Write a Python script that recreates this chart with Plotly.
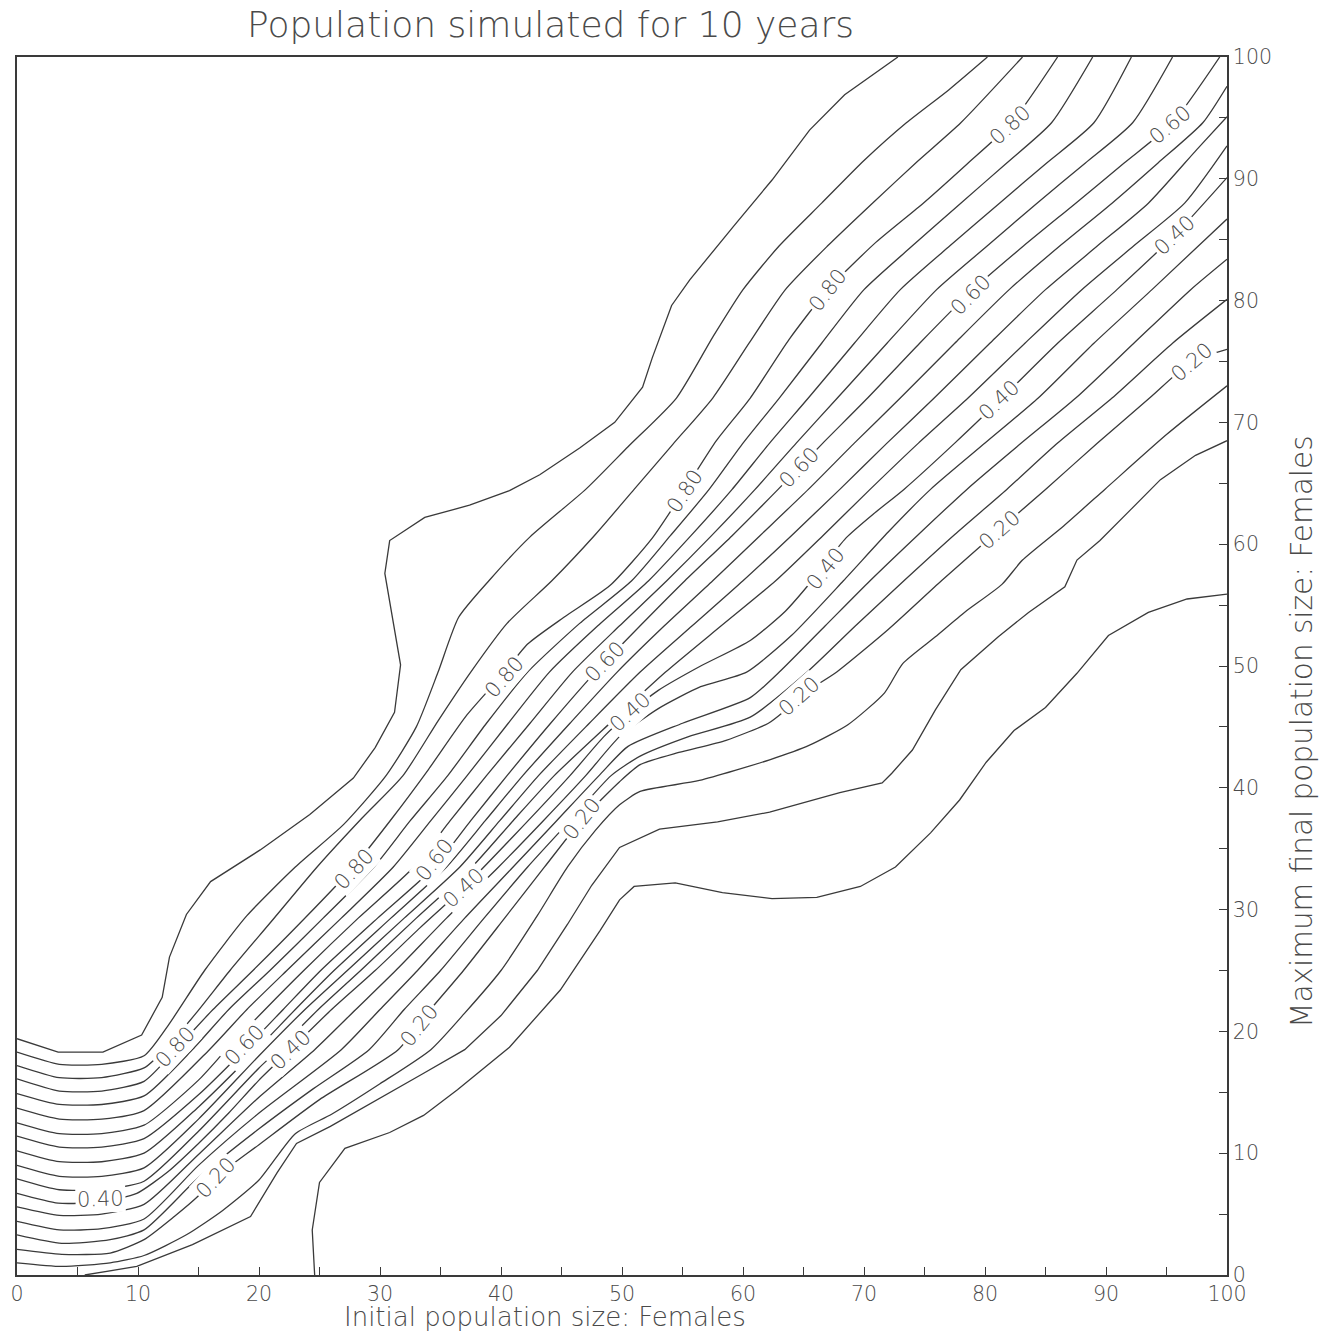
import math
import plotly.graph_objects as go

# ---------------- data ----------------
levels = [0.05, 0.10, 0.15, 0.20, 0.25, 0.30, 0.35, 0.40, 0.45, 0.50,
          0.55, 0.60, 0.65, 0.70, 0.75, 0.80, 0.85, 0.90, 0.95]

c05 = [(24.6, 0), (24.4, 3.7), (25.0, 7.6), (27.1, 10.4), (30.8, 11.7), (33.6, 13.1), (36.4, 15.2),
       (40.7, 18.7), (44.9, 23.4), (48.2, 28.3), (49.8, 30.8), (51.0, 31.9), (54.4, 32.2), (58.3, 31.4),
       (62.4, 30.9), (66.1, 31.0), (69.7, 31.9), (72.6, 33.5), (75.5, 36.3), (77.9, 39.0), (80.1, 42.1),
       (82.4, 44.7), (85.0, 46.6), (87.6, 49.4), (90.2, 52.5), (93.5, 54.4), (96.7, 55.5), (100, 55.9)]
c10 = [(5.6, 0), (9.9, 0.7), (14.5, 2.5), (19.3, 4.8), (21.5, 8.4), (23.1, 10.8), (25.9, 12.2), (30, 14.5),
       (33.5, 16.5), (37.0, 18.5), (40, 21.3), (43.0, 25), (45.5, 28.8), (47.5, 32), (49.8, 35.1),
       (53.1, 36.6), (57.9, 37.2), (62.2, 38.0), (68.0, 39.6), (71.5, 40.4), (72.3, 41.2), (74.0, 43.1),
       (75.9, 46.4), (78.0, 49.7), (81.1, 52.4), (83.6, 54.4), (86.6, 56.5), (87.6, 58.7), (89.5, 60.3),
       (92, 62.8), (94.5, 65.3), (97.4, 67.3), (100, 68.5)]
c15 = [(0, 1.0), (3.7, 0.7), (7.7, 1.0), (10.5, 1.6), (14, 3.3), (17, 5.3), (20, 7.8), (23, 11.6), (26, 13.2),
       (30, 15.7), (34.2, 18.5), (37, 21.5), (40, 25), (43, 29.5), (45.5, 33.5), (47.8, 36.5), (49.8, 38.6),
       (51.5, 39.7), (56.4, 40.6), (62.2, 42.3), (65.5, 43.5), (68.7, 45.2), (71.7, 47.8), (73.2, 50.2),
       (75.9, 52.4), (78.3, 54.4), (81.4, 56.7), (83.1, 58.7), (86.5, 61.5), (89.9, 64.5), (95, 69), (100, 73)]
c20 = [(0, 2.1), (3.7, 1.7), (7.7, 1.8), (10.5, 2.9), (13, 4.8), (15, 6.5), (16.4, 8.0), (20, 10.7), (25, 14.4),
       (31.5, 18.5), (34, 21.6), (36.9, 25), (40.3, 29.3), (43.6, 33.5), (46.7, 37.4), (49.8, 40.5),
       (51.5, 41.9), (54.7, 42.9), (58.6, 43.9), (62.1, 45.3), (63.3, 46.2), (65.1, 47.8), (67.6, 49.4),
       (72, 53), (76.4, 57), (81.2, 61.2), (85.0, 64.5), (89.3, 68.3), (93.6, 72), (97.1, 75.0), (100, 76.0)]
c25 = [(0, 3.3), (3.7, 2.6), (7.7, 2.9), (10.5, 3.7), (15, 8.0), (20, 12.0), (24.5, 15.3), (29.1, 18.5),
       (32, 21.8), (35.0, 25), (38.6, 29.3), (42.2, 33.5), (45.7, 37.3), (49.1, 41), (51.5, 42.6), (55.5, 44.2),
       (60.6, 45.8), (65.3, 49.5), (69.3, 53.3), (73.3, 57), (77.5, 60.8), (81.8, 64.5), (86, 68.3),
       (90.5, 72), (95.5, 76.5), (100, 80.1)]
c30 = [(0, 4.4), (3.5, 3.7), (7, 3.8), (10.5, 4.6), (15, 9.0), (20, 13.3), (26.8, 18.5), (30, 21.8), (33.1, 25),
       (37, 29.3), (41.0, 33.5), (44.6, 37.3), (48.1, 41), (50.5, 43.4), (55, 45.3), (60.6, 47.4), (63.0, 49.5),
       (66.8, 53.3), (70.5, 57), (74.5, 60.8), (78.5, 64.5), (83, 68.3), (87.5, 72), (92.3, 76.5), (97, 80.9),
       (100, 83.4)]
c35 = [(0, 5.6), (3.5, 4.9), (7, 5.0), (10.5, 5.8), (15, 9.9), (20, 14.6), (24.6, 18.5), (28, 21.8), (31.3, 25),
       (35.5, 29.3), (39.8, 33.5), (43.5, 37.3), (47.0, 41), (49.8, 44.2), (53, 46.5), (56.5, 48.3),
       (60.3, 49.5), (64, 52.5), (68.3, 57), (72, 61), (75.5, 64.5), (80, 68.3), (84.4, 72), (89, 76.5),
       (93.8, 80.9), (100, 86.7)]
c40 = [(0, 6.7), (3.4, 5.9), (7, 6.0), (9.9, 6.7), (12.5, 8.5), (15, 10.8), (17.5, 13.3), (20, 16.0),
       (22.6, 18.5), (26, 21.8), (29.6, 25), (33.3, 28.5), (36.9, 31.8), (41, 36), (45.7, 41), (48.5, 44.2),
       (50.7, 46.2), (53.0, 48.0), (56.5, 50), (60.6, 52.1), (63.5, 54.5), (65.7, 57), (68.5, 60.5),
       (70.8, 62.5), (73.3, 64.5), (77.5, 68.3), (81.4, 72), (86, 76.5), (90.9, 80.9), (95.7, 85.4),
       (100, 90.1)]
c45 = [(0, 7.9), (3.5, 7.0), (7, 7.0), (10.5, 7.7), (15, 11.8), (20, 17.0), (21.6, 18.5), (24.9, 21.8),
       (28.4, 25), (33, 29.3), (37.6, 33.5), (41, 37.3), (44.4, 41), (49, 45.3), (53.6, 49.5), (58.2, 53.3),
       (62.7, 57), (66.6, 60.7), (70.5, 64.5), (74.5, 68.3), (78.6, 72), (83.3, 76.5), (88.0, 80.9),
       (92.3, 84.5), (96.5, 88), (100, 92.7)]
c50 = [(0, 9.0), (3.5, 8.1), (7, 8.1), (10.5, 8.8), (15, 12.8), (20, 18.0), (23.8, 21.8), (27.3, 25), (32, 29.3),
       (36.6, 33.5), (39.9, 37.3), (43.1, 41), (47.3, 45.3), (51.5, 49.5), (55.8, 53.3), (60.0, 57),
       (64.0, 60.7), (68.0, 64.5), (71.9, 68.3), (75.8, 72), (80.4, 76.5), (85.0, 80.9), (89.3, 84.5),
       (93.5, 88), (97.5, 92.4), (100, 95.1)]
c55 = [(0, 10.2), (3.5, 9.3), (7, 9.3), (10.5, 10.0), (15, 13.8), (19.8, 18.5), (23, 21.8), (26.2, 25),
       (30.9, 29.3), (35.5, 33.5), (38.7, 37.3), (41.8, 41), (45.7, 45.3), (49.6, 49.5), (53.5, 53.3),
       (57.5, 57), (61.4, 60.7), (65.4, 64.5), (69.2, 68.3), (73.0, 72), (77.5, 76.5), (82.0, 80.9),
       (86.2, 84.5), (90.5, 88), (94.3, 91.3), (98, 94.6), (100, 97.6)]
c60 = [(0, 11.4), (3.5, 10.5), (7, 10.5), (10.5, 11.2), (15, 14.8), (18.8, 18.5), (22, 21.8), (25.1, 25),
       (29.8, 29.3), (34.5, 33.5), (37.5, 37.3), (40.5, 41), (44.1, 45.3), (47.8, 49.5), (51.5, 53.3),
       (55.2, 57), (59.1, 60.7), (62.9, 64.5), (66.6, 68.3), (70.3, 72), (74.6, 76.5), (79.0, 80.9),
       (83.2, 84.5), (87.5, 88), (91.5, 91.3), (95.5, 94.6), (99.4, 100)]
c65 = [(0, 12.5), (3.5, 11.6), (7, 11.6), (10.5, 12.3), (15, 16.0), (17.3, 18.5), (20.5, 21.8), (23.7, 25),
       (28.2, 29.3), (32.8, 33.5), (35.8, 37.3), (38.8, 41), (42.4, 45.3), (45.9, 49.5), (49.8, 53.3),
       (53.7, 57), (57.4, 60.7), (61.0, 64.5), (64.4, 68.3), (67.8, 72), (71.9, 76.5), (76.0, 80.9),
       (80.2, 84.5), (84.3, 88), (88.3, 91.3), (92.2, 94.6), (95.5, 100)]
c70 = [(0, 13.7), (3.5, 12.8), (7, 12.8), (10.5, 13.5), (15.9, 18.5), (19, 21.8), (22.3, 25), (26.8, 29.3),
       (31.1, 33.5), (34.2, 37.3), (37.2, 41), (40.6, 45.3), (44.0, 49.5), (48, 53.3), (52.2, 57), (55.7, 60.7),
       (59.1, 64.5), (62.2, 68.3), (65.4, 72), (69.2, 76.5), (73.0, 80.9), (77.1, 84.5), (81.2, 88),
       (85.1, 91.3), (89.0, 94.6), (92.1, 100)]
c75 = [(0, 14.9), (3.5, 14.0), (7, 14.0), (10.5, 14.7), (14.5, 18.5), (17.5, 21.8), (20.9, 25), (25.3, 29.3),
       (29.5, 33.5), (32.5, 37.3), (35.6, 41), (38.8, 45.3), (42.2, 49.5), (46.5, 53.5), (50.8, 57), (54, 60.7),
       (57.2, 64.5), (60, 68.3), (63.0, 72), (66.5, 76.5), (70.0, 80.9), (74, 84.5), (78.0, 88), (81.8, 91.3),
       (85.5, 94.6), (88.9, 100)]
c80 = [(0, 16.1), (3.5, 15.1), (7, 15.1), (10.5, 15.9), (13.1, 18.5), (16.2, 21.8), (19.5, 25), (23.5, 29),
       (27.8, 33.5), (31, 37.5), (34, 41.5), (37.2, 46), (40.3, 49.5), (42.2, 51.8), (45.2, 54), (49.0, 56.6),
       (52.5, 60.5), (55.2, 64.5), (57.8, 68.5), (60.6, 72), (63.8, 76.8), (67.0, 80.9), (71, 84.8),
       (74.9, 88), (78.5, 91.2), (82.2, 94.6), (86.0, 100)]
c85 = [(0, 17.2), (3.5, 16.2), (7, 16.2), (10.5, 17.0), (12.2, 18.5), (14.8, 21.5), (17.6, 25), (21, 29),
       (24.8, 33.5), (28.5, 37.5), (31.9, 41), (34.8, 45.5), (37.5, 49.5), (40.5, 53.5), (44.2, 57),
       (47.8, 60.8), (51.0, 64.5), (54.2, 68.2), (57.5, 72), (60.5, 76.5), (63.5, 80.9), (67, 84.5),
       (70.7, 88), (74.5, 91.5), (78.0, 94.6), (83.1, 100)]
c90 = [(0, 18.3), (3.5, 17.3), (7, 17.3), (10.5, 18.0), (12.5, 20.5), (15.5, 25), (19, 29.5), (23, 33.5),
       (27, 37), (30.5, 41), (33, 45), (34.8, 49.5), (36.5, 54), (39.0, 57), (42.4, 60.6), (47.0, 64.5),
       (50.5, 68), (54.5, 72), (57.5, 77), (60.0, 80.9), (63, 84.5), (66.5, 88), (70, 91.5), (73.5, 94.6),
       (77, 97.3), (80.2, 100)]
c95 = [(0, 19.4), (3.4, 18.3), (7.1, 18.3), (10.3, 19.7), (12.0, 22.8), (12.6, 26.1), (14.0, 29.6),
       (16.0, 32.3), (20.1, 34.9), (24.2, 37.8), (27.8, 40.8), (29.6, 43.3), (31.2, 46.2), (31.7, 50.1),
       (30.4, 57.6), (30.8, 60.3), (33.7, 62.2), (37.4, 63.2), (40.7, 64.4), (43.2, 65.7), (46.5, 67.9),
       (49.4, 70.0), (51.7, 72.9), (52.5, 75.3), (54.1, 79.6), (55.6, 81.7), (59.3, 86.2), (62.4, 89.9),
       (65.5, 94.0), (68.4, 96.9), (72.8, 100)]

contour_points = [c05, c10, c15, c20, c25, c30, c35, c40, c45, c50,
                  c55, c60, c65, c70, c75, c80, c85, c90, c95]

# contour labels: level, x, y (centre of the label)
label_levels = [0.80, 0.60, 0.40, 0.20, 0.40, 0.20,
                0.80, 0.60, 0.40, 0.20,
                0.80, 0.60, 0.40, 0.20,
                0.80, 0.60, 0.40, 0.20,
                0.80, 0.60, 0.40, 0.20,
                0.80, 0.60, 0.40]
label_x = [13.1, 18.8, 22.6, 33.3, 6.9, 16.4,
           27.9, 34.5, 36.9, 46.7,
           40.3, 48.6, 50.7, 64.7,
           55.2, 64.7, 66.8, 81.2,
           67.0, 78.8, 81.2, 97.1,
           82.1, 95.3, 95.7]
label_y = [18.7, 18.9, 18.5, 20.5, 6.2, 8.0,
           33.3, 34.1, 31.8, 37.4,
           49.1, 50.3, 46.2, 47.5,
           64.4, 66.3, 58.0, 61.2,
           80.9, 80.5, 71.8, 75.0,
           94.4, 94.4, 85.4]

x_ticks = [0, 10, 20, 30, 40, 50, 60, 70, 80, 90, 100]
y_ticks = [0, 10, 20, 30, 40, 50, 60, 70, 80, 90, 100]

title_text = "Population simulated for 10 years"
x_title = "Initial population size: Females"
y_title = "Maximum final population size: Females"

# ---------------- styling ----------------
W, H = 1327, 1334
ML, MR, MT, MB = 17, 100, 57, 59
LINE = "#3a3a3a"
TEXT = "#4a4a4a"
FONT = "DejaVu Sans"

fig = go.Figure()
for lev, pts in zip(levels, contour_points):
    xs = [p[0] for p in pts]
    ys = [p[1] for p in pts]
    if lev in (0.05, 0.10, 0.95):
        ln = dict(color=LINE, width=1.3, shape="linear")
    else:
        ln = dict(color=LINE, width=1.3, shape="spline", smoothing=0.6)
    fig.add_trace(go.Scatter(x=xs, y=ys, mode="lines", line=ln,
                             hoverinfo="skip", showlegend=False))

# label rotation from the local direction of its own contour (pixel space)
pw = (W - ML - MR) / 100.0
ph = (H - MT - MB) / 100.0


def local_angle(pts, x, y):
    best, bestd = None, 1e18
    for (x0, y0), (x1, y1) in zip(pts[:-1], pts[1:]):
        ax, ay = x0 * pw, y0 * ph
        bx, by = x1 * pw, y1 * ph
        px, py = x * pw, y * ph
        vx, vy = bx - ax, by - ay
        L2 = vx * vx + vy * vy
        t = 0 if L2 == 0 else max(0, min(1, ((px - ax) * vx + (py - ay) * vy) / L2))
        d = (ax + t * vx - px) ** 2 + (ay + t * vy - py) ** 2
        if d < bestd:
            bestd, best = d, (vx, vy)
    ang = -math.degrees(math.atan2(best[1], best[0]))
    while ang > 90:
        ang -= 180
    while ang <= -90:
        ang += 180
    return ang


lev_index = {round(l, 2): i for i, l in enumerate(levels)}
for lev, lx, ly in zip(label_levels, label_x, label_y):
    pts = contour_points[lev_index[round(lev, 2)]]
    fig.add_annotation(x=lx, y=ly, xref="x", yref="y", text=f"{lev:.2f}",
                       showarrow=False, textangle=local_angle(pts, lx, ly),
                       font=dict(family=FONT, size=21, color=TEXT, weight=200),
                       bgcolor="white", borderpad=1)

fig.add_annotation(x=0.4413, y=1.0263, xref="paper", yref="paper", text=title_text,
                   showarrow=False, xanchor="center", yanchor="middle",
                   font=dict(family=FONT, size=36, color=TEXT, weight=200))
fig.add_annotation(x=0.4364, y=-0.0345, xref="paper", yref="paper", text=x_title,
                   showarrow=False, xanchor="center", yanchor="middle",
                   font=dict(family=FONT, size=26, color=TEXT, weight=200))
fig.add_annotation(x=1.062, y=0.4458, xref="paper", yref="paper", text=y_title,
                   showarrow=False, xanchor="center", yanchor="middle", textangle=-90,
                   font=dict(family=FONT, size=29.5, color=TEXT, weight=200))

axis_common = dict(range=[0, 100], showgrid=False, zeroline=False, automargin=False,
                   ticks="inside", ticklen=8, tickwidth=1.3, tickcolor=LINE,
                   showline=True, linecolor=LINE, linewidth=1.5, mirror=True,
                   tickfont=dict(family=FONT, size=20.5, color=TEXT, weight=200),
                   minor=dict(dtick=5, ticks="inside", ticklen=8, tickwidth=1.3,
                              tickcolor=LINE, showgrid=False))

fig.update_layout(
    width=W, height=H,
    margin=dict(l=ML, r=MR, t=MT, b=MB),
    paper_bgcolor="white", plot_bgcolor="white",
    showlegend=False,
    xaxis=dict(tickvals=x_ticks, ticktext=[str(v) for v in x_ticks], **axis_common),
    yaxis=dict(tickvals=y_ticks, ticktext=[str(v) for v in y_ticks], side="right", **axis_common),
)

# remove the browser's default 8 px page margin so the figure fills the window
fig.write_html("out.html", config={"displayModeBar": False},
               post_script="document.body.style.margin='0px';")
